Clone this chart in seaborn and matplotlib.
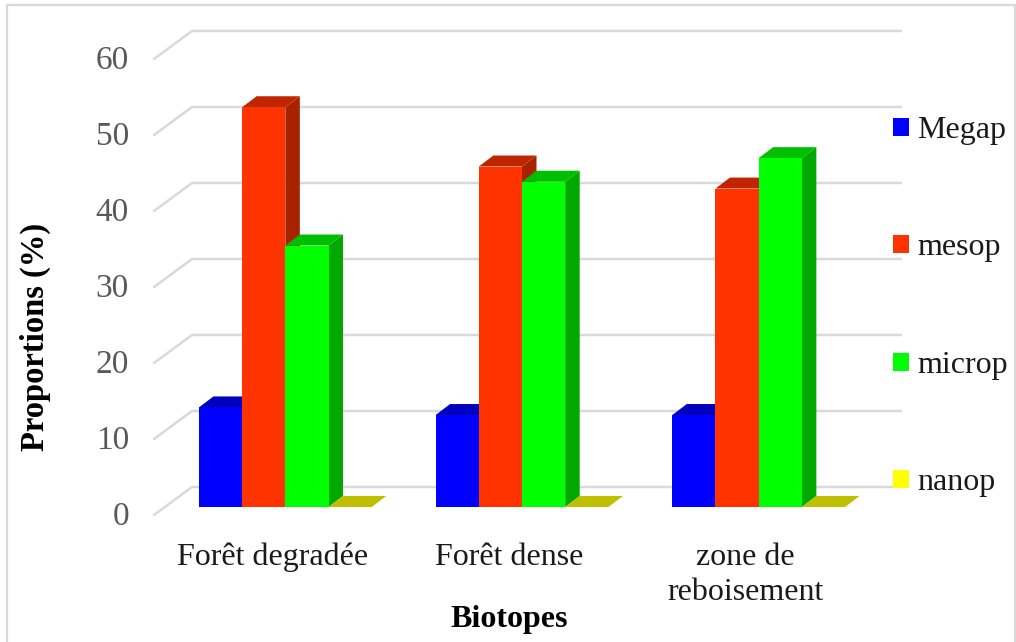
import matplotlib
matplotlib.use("Agg")
import matplotlib.pyplot as plt
import pandas as pd
import seaborn as sns
from matplotlib.lines import Line2D
from matplotlib.patches import Polygon
from matplotlib.transforms import Affine2D, ScaledTranslation

biotopes = ["Forêt degradée", "Forêt dense", "zone de\nreboisement"]
types = ["Megap", "mesop", "microp", "nanop"]
megap = [13.1, 12.1, 12.1]
mesop = [52.6, 44.8, 41.9]
microp = [34.4, 42.8, 45.9]
nanop = [0, 0, 0]

front = ["#0000FF", "#FF3300", "#00FF00", "#FFFF00"]
top = ["#0000BF", "#BF2600", "#00BF00", "#BFBF00"]
side = ["#0000A8", "#A82200", "#00A800", "#A8A800"]

W, H = 1016, 642
BAR_SHIFT = (13, 8)      # bars stand part-way back on the floor
BAR_DEPTH = (14.5, 11)   # depth of each bar
WALL = (38, 28)          # floor depth

sns.set_theme(style="white")
plt.rcParams["font.family"] = ["Liberation Serif", "DejaVu Serif"]

fig = plt.figure(figsize=(W / 100, H / 100), dpi=100)
ax = fig.add_axes([154 / W, 1 - 515 / H, 710 / W, 456 / H])

df = pd.DataFrame({
    "Biotope": biotopes * 4,
    "Type": [t for t in types for _ in biotopes],
    "Proportion": megap + mesop + microp + nanop,
})
sns.barplot(data=df, x="Biotope", y="Proportion", hue="Type", hue_order=types,
            palette=front, width=0.73, gap=0, errorbar=None, saturation=1,
            linewidth=0, ax=ax, zorder=5, legend=True)

ax.set_xlim(-0.5, 2.5)
ax.set_ylim(0, 60)
ax.set_yticks(range(0, 61, 10))
sns.despine(ax=ax, left=True, bottom=True)
ax.tick_params(axis="both", length=0)
ax.tick_params(axis="y", labelsize=24, labelcolor="#595959", pad=18)
ax.tick_params(axis="x", labelsize=23, labelcolor="#1a1a1a", pad=20)
for lab in ax.get_xticklabels():
    lab.set_linespacing(1.28)
nudge = ScaledTranslation(0, 2 / 100, fig.dpi_scale_trans)
for lab in ax.get_yticklabels():
    lab.set_transform(lab.get_transform() + nudge)

# Floor and back-wall gridlines, in pixel offsets from the front plane
for v in range(0, 61, 10):
    _, py = ax.transData.transform((0, v))
    x0 = 154
    ax.add_line(Line2D([x0, x0 + WALL[0], 864 + WALL[0] - 1],
                       [py, py + WALL[1], py + WALL[1]],
                       transform=None, color="#D9D9D9", lw=1.8,
                       clip_on=False, zorder=1))

# Extruded faces for every bar
to_px = Affine2D().translate(*BAR_SHIFT)
for i, container in enumerate(ax.containers):
    for bar in container:
        bar.set_transform(ax.transData + to_px)
        bar.set_clip_on(False)
        (xa, ya), (xb, yb) = ax.transData.transform(
            [(bar.get_x(), 0), (bar.get_x() + bar.get_width(), bar.get_height())])
        xa, xb = xa + BAR_SHIFT[0], xb + BAR_SHIFT[0]
        ya, yb = ya + BAR_SHIFT[1], yb + BAR_SHIFT[1]
        dx, dy = BAR_DEPTH
        if yb > ya:
            ax.add_patch(Polygon([(xb, ya), (xb + dx, ya + dy), (xb + dx, yb + dy), (xb, yb)],
                                 closed=True, transform=None, fc=side[i], ec="none",
                                 clip_on=False, zorder=3))
        ax.add_patch(Polygon([(xa, yb), (xa + dx, yb + dy), (xb + dx, yb + dy), (xb, yb)],
                             closed=True, transform=None, fc=top[i], ec="none",
                             clip_on=False, zorder=4))

ax.set_xlabel("Biotopes", fontsize=23, fontweight="bold", color="#000000")
ax.xaxis.set_label_coords(509 / W, 1 - 620 / H, transform=fig.transFigure)
ax.xaxis.label.set_verticalalignment("center")
ax.set_ylabel("Proportions (%)", fontsize=23.5, fontweight="bold", color="#000000")
ax.yaxis.set_label_coords(35 / W, 1 - 337 / H, transform=fig.transFigure)
ax.yaxis.label.set_verticalalignment("center")

handles, labels = ax.get_legend_handles_labels()
ax.legend(handles, labels, loc="upper left", frameon=False, fontsize=23,
          bbox_to_anchor=(893 / W, 1 - 116 / H), bbox_transform=fig.transFigure,
          borderpad=0, borderaxespad=0, handlelength=0.5, handleheight=0.5,
          handletextpad=0.25, labelspacing=2.77, labelcolor="#1a1a1a")

# Chart border, running off the lower edge
fig.add_artist(Line2D([7 / W, 7 / W, 1015 / W, 1015 / W],
                      [0, 1 - 5 / H, 1 - 5 / H, 0],
                      transform=fig.transFigure, color="#D9D9D9", lw=1.6))

fig.savefig("out.png", dpi=100)
